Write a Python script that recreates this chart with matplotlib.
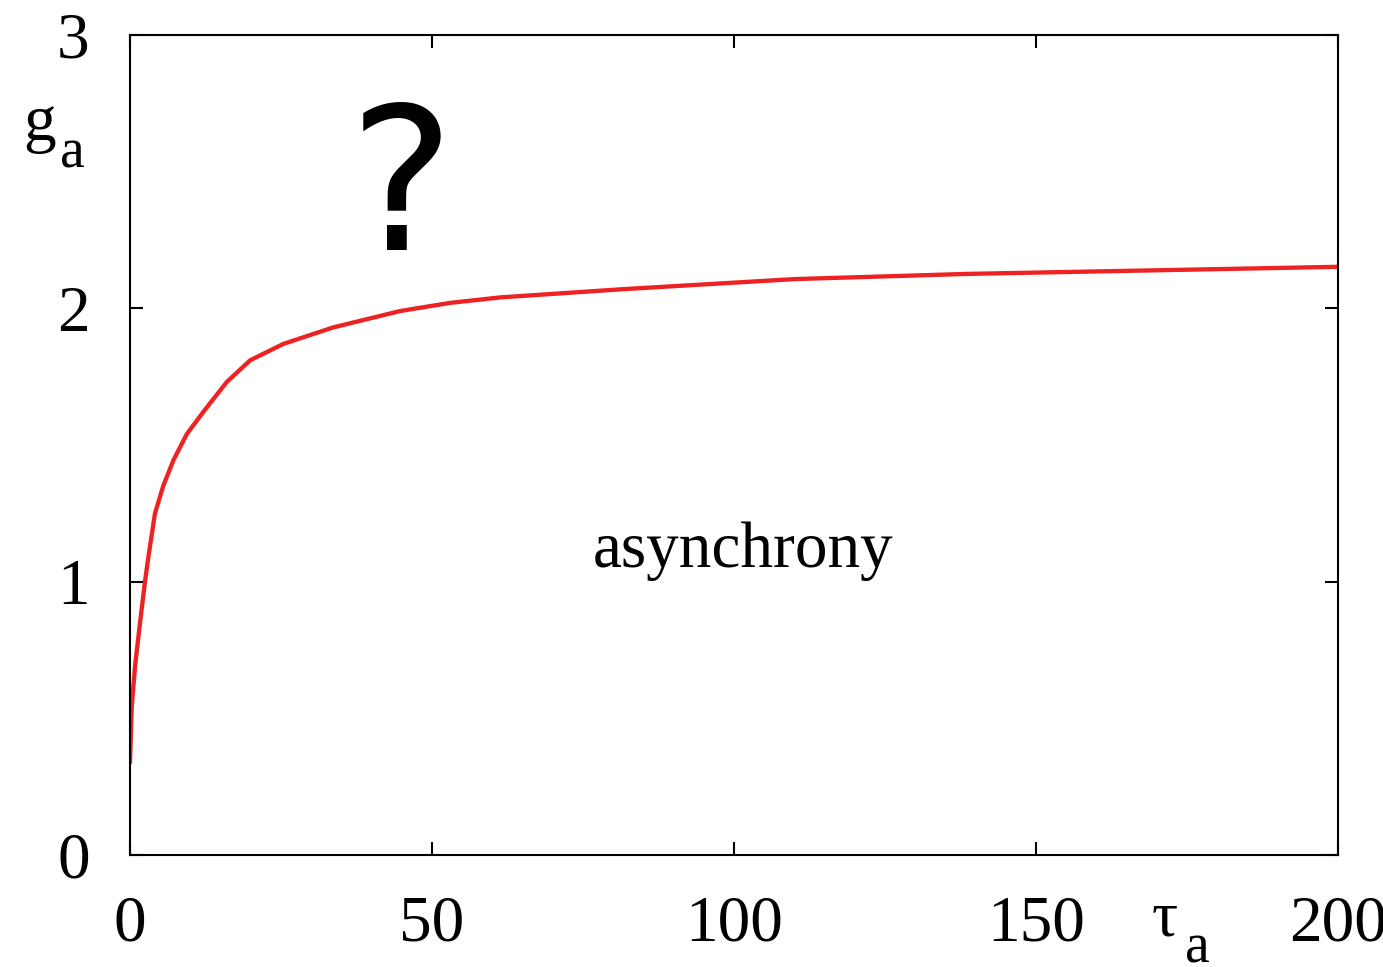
import matplotlib
matplotlib.use('Agg')
import matplotlib.pyplot as plt

# Boundary curve
tau_a = [0.0, 0.28, 0.83, 1.66, 2.48, 3.04, 4.14, 5.5, 7.2, 9.4, 12.1, 16.0,
         19.9, 25.4, 33.6, 44.7, 53.0, 61.3, 81.5, 110.0, 138.6, 167.0, 200.0]
g_a = [0.34, 0.54, 0.69, 0.85, 1.0, 1.09, 1.25, 1.35, 1.445, 1.54, 1.62, 1.73,
       1.81, 1.87, 1.93, 1.99, 2.02, 2.04, 2.07, 2.107, 2.126, 2.138, 2.152]

x_ticks = [0, 50, 100, 150, 200]
y_ticks = [0, 1, 2, 3]

plt.rcParams['font.family'] = ['Liberation Serif', 'DejaVu Serif']

fig = plt.figure(figsize=(13.83, 9.67), dpi=100)
ax = fig.add_axes([0.094, 0.1158, 0.8735, 0.848])

ax.plot(tau_a, g_a, color='#ee2222', lw=3.1, solid_joinstyle='round')

ax.set_xlim(0, 200)
ax.set_ylim(0, 3)
ax.set_xticks(x_ticks)
ax.set_yticks(y_ticks)
ax.tick_params(direction='in', top=True, right=True, length=9.5, width=1.5,
               labelsize=47, pad=29)
for s in ax.spines.values():
    s.set_linewidth(1.5)

# Axis labels with gnuplot-style subscripts
fig.text(0.0166, 0.855, 'g', fontsize=47, va='baseline')
fig.text(0.0434, 0.827, 'a', fontsize=40, va='baseline')
fig.text(0.833, 0.033, 'τ', fontsize=47, va='baseline')
fig.text(0.857, 0.005, 'a', fontsize=40, va='baseline')

ax.text(101.5, 1.053, 'asynchrony', fontsize=47, ha='center', va='baseline')
ax.text(45, 2.413, '?', fontsize=143, ha='center', va='center',
        family='DejaVu Sans')

fig.savefig('out.png', dpi=100)
